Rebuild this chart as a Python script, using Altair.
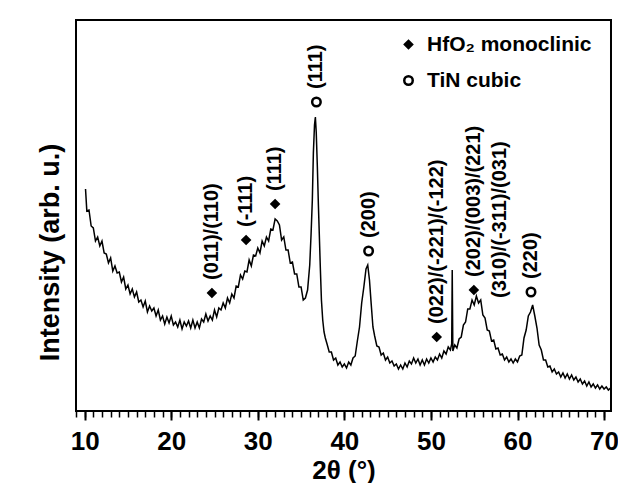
import altair as alt
import pandas as pd

# ---- XRD pattern (2theta in degrees, intensity in arb. units) ----
two_theta_a = [10.1, 10.25, 10.5, 10.75, 11.0, 11.25, 11.5, 11.75, 12.0, 12.25, 12.5, 12.75, 13.0, 13.25,
               13.5, 13.75, 14.0, 14.25, 14.5, 14.75, 15.0, 15.25, 15.5, 15.75, 16.0, 16.25, 16.5, 16.75,
               17.0, 17.25, 17.5, 17.75, 18.0, 18.25, 18.5, 18.75, 19.0, 19.25, 19.5, 19.75, 20.0, 20.25,
               20.5, 20.75, 21.0, 21.25, 21.5, 21.75, 22.0, 22.25, 22.5, 22.75, 23.0, 23.25, 23.5, 23.75,
               24.0, 24.25, 24.5, 24.75, 25.0, 25.25, 25.5, 25.75, 26.0, 26.25, 26.5, 26.75, 27.0, 27.25,
               27.5, 27.75, 28.0, 28.25, 28.5, 28.75, 29.0, 29.25, 29.5, 29.75, 30.0, 30.25, 30.5, 30.75,
               31.0, 31.25, 31.5, 31.75, 32.0, 32.25, 32.5, 32.75, 33.0, 33.25, 33.5, 33.75, 34.0, 34.25,
               34.5, 34.75, 35.0, 35.25, 35.5, 35.75]
intensity_a = [226, 204, 205, 189, 187, 174, 178, 169, 174, 162, 161, 152, 157, 144, 149, 142, 143, 133,
               138, 126, 130, 121, 126, 118, 123, 113, 115, 108, 114, 103, 109, 104, 107, 99, 105, 95,
               99, 91, 98, 92, 99, 90, 93, 88, 95, 86, 93, 89, 94, 87, 95, 87, 93, 87, 96, 93, 101, 94,
               99, 95, 105, 98, 107, 105, 112, 107, 117, 112, 121, 117, 129, 128, 140, 136, 144, 143,
               155, 149, 160, 159, 167, 162, 174, 169, 178, 174, 186, 185, 196, 194, 190, 175, 178, 165,
               165, 152, 153, 141, 141, 128, 128, 115, 117, 125]

two_theta_b = [36.0, 36.15, 36.3, 36.42, 36.55, 36.65, 36.75, 36.88, 37.0, 37.1, 37.22, 37.35, 37.5,
               37.65, 37.8]
intensity_b = [150, 180, 215, 262, 290, 298, 283, 248, 210, 182, 148, 115, 95, 83, 77]

two_theta_c = [38.0, 38.25, 38.5, 38.75, 39.0, 39.25, 39.5, 39.75, 40.0, 40.25, 40.5, 40.75, 41.0,
               41.25, 41.5, 41.75, 42.0, 42.25, 42.5, 42.7, 42.9, 43.1, 43.3, 43.5, 43.75, 44.0, 44.25,
               44.5, 44.75, 45.0, 45.25, 45.5, 45.75, 46.0, 46.25, 46.5, 46.75, 47.0, 47.25, 47.5, 47.75,
               48.0, 48.25, 48.5, 48.75, 49.0, 49.25, 49.5, 49.75, 50.0, 50.25, 50.5, 50.75, 51.0, 51.25,
               51.5, 51.75, 52.0, 52.25, 52.4]
intensity_c = [71, 63, 63, 55, 57, 50, 53, 48, 51, 47, 53, 50, 57, 59, 74, 88, 112, 128, 146, 150, 135,
               111, 88, 79, 69, 68, 60, 62, 55, 58, 52, 54, 49, 51, 46, 50, 46, 52, 48, 54, 51, 57, 52,
               56, 50, 55, 50, 56, 52, 57, 53, 58, 55, 61, 57, 64, 61, 68, 65, 71]

two_theta_d = [52.46, 52.53]
intensity_d = [145, 64]

two_theta_e = [52.75, 53.0, 53.25, 53.5, 53.75, 54.0, 54.25, 54.5, 54.75, 55.0, 55.25, 55.5, 55.75,
               56.0, 56.25, 56.5, 56.75, 57.0, 57.25, 57.5, 57.75, 58.0, 58.25, 58.5, 58.75, 59.0, 59.25,
               59.5, 59.75, 60.0, 60.25, 60.5, 60.75, 61.0, 61.25, 61.5, 61.75, 62.0, 62.25, 62.5, 62.75,
               63.0, 63.25, 63.5, 63.75, 64.0, 64.25, 64.5, 64.75, 65.0, 65.25, 65.5, 65.75, 66.0, 66.25,
               66.5, 66.75, 67.0, 67.25, 67.5, 67.75, 68.0, 68.25, 68.5, 68.75, 69.0, 69.25, 69.5, 69.75,
               70.0, 70.25, 70.5, 70.75, 70.8]
intensity_e = [70, 67, 76, 78, 90, 93, 106, 106, 115, 110, 119, 112, 115, 100, 97, 85, 84, 74, 75, 66,
               67, 60, 61, 55, 58, 53, 56, 52, 56, 53, 59, 60, 77, 85, 99, 103, 110, 99, 87, 70, 65, 55,
               55, 48, 49, 43, 46, 41, 43, 38, 42, 37, 41, 36, 40, 35, 38, 33, 36, 31, 34, 29, 33, 28,
               31, 27, 30, 26, 29, 26, 28, 25, 27, 26]

# ---- peak annotations ----
peak_pos = [24.7, 28.65, 32.0, 36.77, 42.8, 50.67, 54.96, 61.56]
peak_height = [122, 175, 211, 313, 164, 78, 125, 123]
peak_label = ["(011)/(110)", "(-111)", "(111)", "(111)", "(200)",
              "(022)/(-221)/(-122)", "(202)/(003)/(221)", "(220)"]
peak_phase = ["HfO₂ monoclinic", "HfO₂ monoclinic", "HfO₂ monoclinic", "TiN cubic", "TiN cubic",
              "HfO₂ monoclinic", "HfO₂ monoclinic", "TiN cubic"]

extra_pos = [57.97]
extra_height = [117]
extra_label = ["(310)/(-311)/(031)"]

phases = ["HfO₂ monoclinic", "TiN cubic"]
major_ticks = [10, 20, 30, 40, 50, 60, 70]
minor_ticks = list(range(9, 71))

# plot frame limits and the (slightly wider) scale domains
x_limits = [9, 70.8]
y_limits = [4, 395]
x_domain = [8.422, 71.378]
y_domain = [-1, 400]

FONT = "Liberation Sans"

pattern = pd.DataFrame({
    "two_theta": two_theta_a + two_theta_b + two_theta_c + two_theta_d + two_theta_e,
    "intensity": intensity_a + intensity_b + intensity_c + intensity_d + intensity_e,
})
peaks = pd.DataFrame({"two_theta": peak_pos, "intensity": peak_height,
                      "label": peak_label, "phase": peak_phase})
extra = pd.DataFrame({"two_theta": extra_pos, "intensity": extra_height, "label": extra_label})
# frame edges: top, right, bottom, left
edges = pd.DataFrame({
    "x1": [x_limits[0], x_limits[1], x_limits[0], x_limits[0]],
    "x2": [x_limits[1], x_limits[1], x_limits[1], x_limits[0]],
    "y1": [y_limits[1], y_limits[0], y_limits[0], y_limits[0]],
    "y2": [y_limits[1], y_limits[1], y_limits[0], y_limits[1]],
})

x_scale = alt.Scale(domain=x_domain, nice=False, zero=False)
y_scale = alt.Scale(domain=y_domain, nice=False, zero=False)

y_left = alt.Axis(title="Intensity (arb. u.)", orient="left", labels=False, ticks=False, grid=False,
                  domain=False, offset=-5,
                  titleFont=FONT, titleFontSize=27, titleFontWeight="bold",
                  titleColor="black", titlePadding=12, titleY=237)

x_major = alt.Axis(values=major_ticks, orient="bottom", title="2θ (°)", grid=False, offset=-5,
                   tickSize=9, tickWidth=2, tickColor="black", domain=False,
                   labelFont=FONT, labelFontSize=26, labelFontWeight="bold", labelColor="black",
                   labelPadding=8, labelFlush=False, labelOverlap=False,
                   titleFont=FONT, titleFontSize=26, titleFontWeight="bold", titleColor="black",
                   titlePadding=3)
x_minor = alt.Axis(values=minor_ticks, orient="bottom", title=None, grid=False, labels=False,
                   domain=False, offset=-5, tickSize=6, tickWidth=1.5, tickColor="black")

frame_lines = alt.Chart(edges).mark_rule(color="black", strokeWidth=2, strokeCap="square").encode(
    x=alt.X("x1:Q", scale=x_scale, axis=None), x2="x2:Q",
    y=alt.Y("y1:Q", scale=y_scale, axis=None), y2="y2:Q",
)

line = alt.Chart(pattern).mark_line(color="black", strokeWidth=1.5).encode(
    x=alt.X("two_theta:Q", scale=x_scale, axis=x_major),
    y=alt.Y("intensity:Q", scale=y_scale, axis=y_left),
)

markers = alt.Chart(peaks).mark_point(opacity=1, strokeWidth=2.5).encode(
    x=alt.X("two_theta:Q", scale=x_scale, axis=x_minor),
    y=alt.Y("intensity:Q", scale=y_scale, axis=None),
    shape=alt.Shape("phase:N", scale=alt.Scale(domain=phases, range=["diamond", "circle"]),
                    legend=alt.Legend(title=None, orient="none", legendX=327, legendY=19,
                                      labelFont=FONT, labelFontSize=21, labelFontWeight="bold",
                                      labelColor="black", labelOffset=8, rowPadding=14,
                                      labelLimit=400,
                                      symbolStrokeColor="black", symbolStrokeWidth=2.5,
                                      padding=0)),
    fill=alt.Fill("phase:N", scale=alt.Scale(domain=phases, range=["black", "white"])),
    size=alt.Size("phase:N", scale=alt.Scale(domain=phases, range=[50, 72])),
    stroke=alt.value("black"),
)

labels = alt.Chart(peaks).mark_text(
    angle=270, align="left", baseline="middle", dx=13,
    font=FONT, fontSize=20, fontWeight="bold", color="black",
).encode(
    x=alt.X("two_theta:Q", scale=x_scale, axis=None),
    y=alt.Y("intensity:Q", scale=y_scale, axis=None),
    text="label:N",
)

extra_labels = alt.Chart(extra).mark_text(
    angle=270, align="left", baseline="middle", dx=0,
    font=FONT, fontSize=20, fontWeight="bold", color="black",
).encode(
    x=alt.X("two_theta:Q", scale=x_scale, axis=None),
    y=alt.Y("intensity:Q", scale=y_scale, axis=None),
    text="label:N",
)

chart = alt.layer(line, markers, labels, extra_labels, frame_lines).resolve_scale(
    x="shared", y="shared"
).resolve_axis(
    x="independent", y="independent"
).properties(
    width=545, height=401,
    padding={"left": 71, "top": 15, "right": 2, "bottom": 67},
    autosize=alt.AutoSizeParams(type="none"),
    background="white",
).configure_view(
    strokeOpacity=0
)

chart.save("out.html", embed_options={"renderer": "svg", "actions": False})
